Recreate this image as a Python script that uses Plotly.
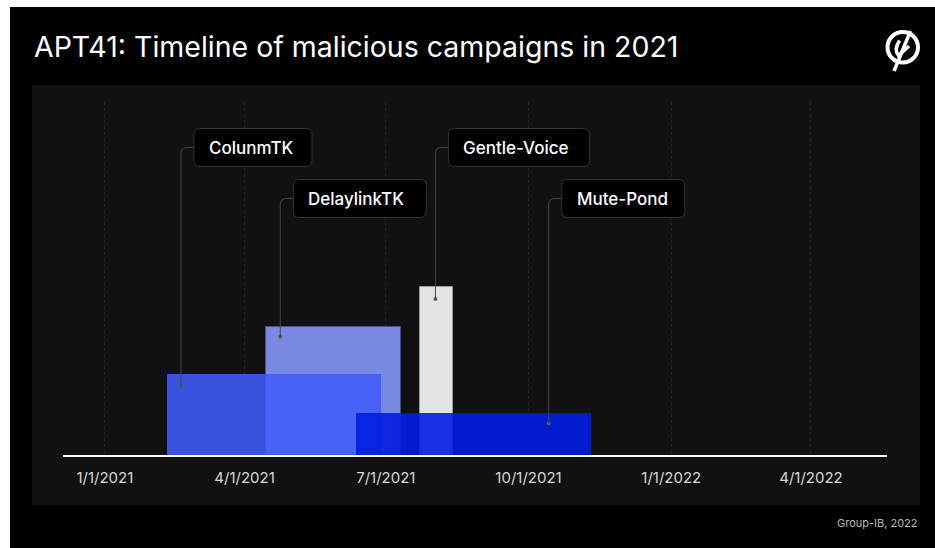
import plotly.graph_objects as go
import pandas as pd

# ---------------- data ----------------
campaigns = ["DelaylinkTK", "ColunmTK", "Gentle-Voice", "Mute-Pond"]
start_dates = ["2021-04-15", "2021-02-10", "2021-07-23", "2021-06-12"]
end_dates = ["2021-07-11", "2021-06-28", "2021-08-13", "2021-11-10"]
activity = [3.05, 1.92, 4.0, 1.0]
callout_dates = ["2021-04-24", "2021-02-19", "2021-08-02", "2021-10-14"]
callout_levels = [2.81, 1.63, 3.71, 0.75]
tick_dates = ["2021-01-01", "2021-04-01", "2021-07-01", "2021-10-01", "2022-01-01", "2022-04-01"]
tick_labels = ["1/1/2021", "4/1/2021", "7/1/2021", "10/1/2021", "1/1/2022", "4/1/2022"]
x_range = ["2020-12-05", "2022-05-20"]
title_text = "APT41: Timeline of malicious campaigns in 2021"
source_text = "Group-IB, 2022"

# ---------------- layout / style ----------------
W, H = 935, 548
ML, MR, MT, MB = 63, 48, 102, 93
PLOT_W = W - ML - MR
PLOT_H = H - MT - MB
PX_PER_UNIT = 42.05
Y_MAX = PLOT_H / PX_PER_UNIT

bar_colors = {
    "DelaylinkTK": "rgba(136,152,255,0.88)",
    "ColunmTK": "rgba(64,92,252,0.88)",
    "Gentle-Voice": "#e4e4e4",
    "Mute-Pond": "rgba(0,30,226,0.9)",
}
bar_lines = {
    "DelaylinkTK": ("rgba(70,80,140,0.9)", 1),
    "ColunmTK": ("rgba(0,0,0,0)", 0),
    "Gentle-Voice": ("#9a9a9a", 1),
    "Mute-Pond": ("rgba(0,0,0,0)", 0),
}
callout_row = {"ColunmTK": 1, "DelaylinkTK": 2, "Gentle-Voice": 1, "Mute-Pond": 2}
row_y_px = {1: 147.5, 2: 198.5}  # page pixel y of label-box centres
box_w = {"ColunmTK": 118, "DelaylinkTK": 133, "Gentle-Voice": 141, "Mute-Pond": 123}
BOX_H = 38
BOX_GAP = 13
R = 6


def px(x):
    return (x - ML) / PLOT_W


def py(y):
    return (H - MB - y) / PLOT_H


def row_level(row):
    return (H - MB - row_y_px[row]) / PX_PER_UNIT


fig = go.Figure()

starts = pd.to_datetime(pd.Series(start_dates))
ends = pd.to_datetime(pd.Series(end_dates))
mids = starts + (ends - starts) / 2
widths_ms = (ends - starts).dt.total_seconds() * 1000

for i, name in enumerate(campaigns):
    lc, lw = bar_lines[name]
    fig.add_trace(go.Bar(
        x=[mids[i]], y=[activity[i]], width=[widths_ms[i]],
        name=name,
        marker=dict(color=bar_colors[name], line=dict(color=lc, width=lw)),
        hoverinfo="skip", showlegend=False,
    ))

shapes = []
annotations = []

# background panel
shapes.append(dict(type="rect", xref="paper", yref="paper", layer="below",
                   x0=px(32), x1=px(920), y0=py(505), y1=py(85),
                   fillcolor="#111111", line=dict(width=0)))
# white page border (left + top)
shapes.append(dict(type="rect", xref="paper", yref="paper", layer="above",
                   x0=px(0), x1=px(10), y0=py(H), y1=py(0),
                   fillcolor="white", line=dict(width=0)))
shapes.append(dict(type="rect", xref="paper", yref="paper", layer="above",
                   x0=px(0), x1=px(W), y0=py(7), y1=py(0),
                   fillcolor="white", line=dict(width=0)))

# callouts
for i, name in enumerate(campaigns):
    row = callout_row[name]
    lvl = row_level(row)
    h = (lvl - callout_levels[i]) * PX_PER_UNIT
    shapes.append(dict(
        type="path", xref="x", yref="y", xsizemode="pixel", ysizemode="pixel",
        xanchor=callout_dates[i], yanchor=callout_levels[i],
        path=f"M0,0 L0,{h - R:.2f} Q0,{h:.2f} {R},{h:.2f} L{BOX_GAP},{h:.2f}",
        line=dict(color="#474747", width=1), layer="above"))
    w = box_w[name]
    x0, x1 = BOX_GAP, BOX_GAP + w
    y0, y1 = -BOX_H / 2, BOX_H / 2
    r = R
    path = (f"M{x0 + r},{y0} L{x1 - r},{y0} Q{x1},{y0} {x1},{y0 + r} "
            f"L{x1},{y1 - r} Q{x1},{y1} {x1 - r},{y1} L{x0 + r},{y1} "
            f"Q{x0},{y1} {x0},{y1 - r} L{x0},{y0 + r} Q{x0},{y0} {x0 + r},{y0} Z")
    shapes.append(dict(
        type="path", xref="x", yref="y", xsizemode="pixel", ysizemode="pixel",
        xanchor=callout_dates[i], yanchor=lvl, path=path,
        fillcolor="#000000", line=dict(color="#333333", width=1), layer="above"))
    annotations.append(dict(
        x=callout_dates[i], y=lvl, xref="x", yref="y", xanchor="left", yanchor="middle",
        xshift=BOX_GAP + 13, text=name, showarrow=False,
        font=dict(family="Inter, Roboto, sans-serif", size=17, color="white", weight=500)))

# callout dots
fig.add_trace(go.Scatter(
    x=callout_dates, y=callout_levels, mode="markers",
    marker=dict(size=4, color="#5c5c5c"), hoverinfo="skip", showlegend=False))

# title & source
annotations.append(dict(x=px(32), y=py(46), xref="paper", yref="paper", xanchor="left",
                        yanchor="middle", text=title_text, showarrow=False,
                        font=dict(family="Inter, Roboto, sans-serif", size=28.5, color="white")))
annotations.append(dict(x=px(920), y=py(523), xref="paper", yref="paper", xanchor="right",
                        yanchor="middle", text=source_text, showarrow=False,
                        font=dict(family="Inter, Roboto, sans-serif", size=11, color="#b8b8b8")))

# logo
shapes.append(dict(type="circle", xref="paper", yref="paper",
                   x0=px(887.5), x1=px(918), y0=py(62.5), y1=py(32),
                   line=dict(color="white", width=4)))
shapes.append(dict(type="line", xref="paper", yref="paper",
                   x0=px(910.5), y0=py(31), x1=px(894), y1=py(71),
                   line=dict(color="white", width=3.5)))
shapes.append(dict(type="path", xref="paper", yref="paper",
                   path=(f"M{px(899.5)},{py(40.5)} Q{px(893.5)},{py(50)} {px(898.5)},{py(55.5)} "
                         f"L{px(909)},{py(46)}"),
                   line=dict(color="white", width=3.5)))

fig.update_layout(
    width=W, height=H,
    margin=dict(l=ML, r=MR, t=MT, b=MB, pad=0),
    paper_bgcolor="#000000", plot_bgcolor="#111111",
    barmode="overlay", bargap=0,
    shapes=shapes, annotations=annotations,
    xaxis=dict(type="date", range=x_range, tickvals=tick_dates, ticktext=tick_labels,
               showgrid=True, gridcolor="#262626", griddash="dot", gridwidth=1,
               showline=True, linecolor="white", linewidth=2,
               ticks="outside", ticklen=8, tickcolor="rgba(0,0,0,0)",
               tickfont=dict(family="Inter, Roboto, sans-serif", size=15, color="#d8d8d8"),
               zeroline=False, fixedrange=True),
    yaxis=dict(range=[0, Y_MAX], visible=False, showgrid=False, zeroline=False, fixedrange=True),
    font=dict(family="Inter, Roboto, sans-serif"),
)

fig.write_html("out.html", config={"displayModeBar": False},
               post_script="document.body.style.margin='0';document.body.style.overflow='hidden';")
